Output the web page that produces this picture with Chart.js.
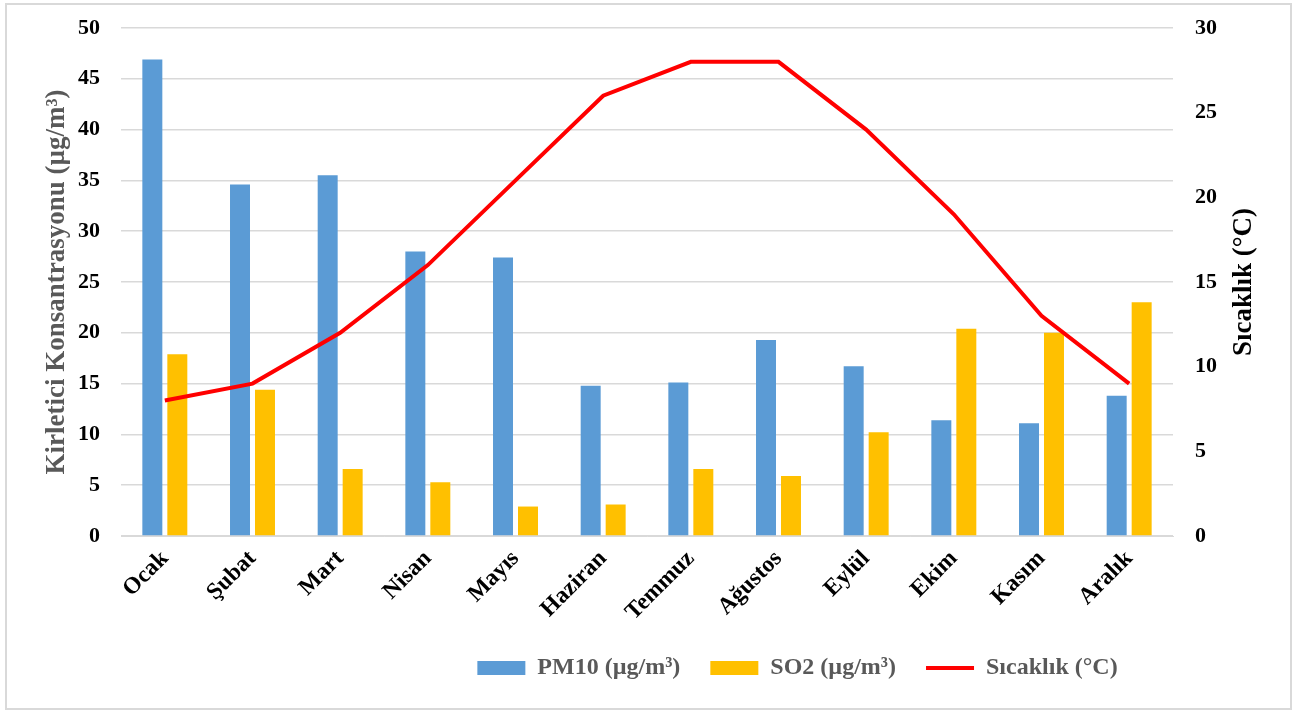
<!DOCTYPE html>
<html>
<head>
<meta charset="utf-8">
<script src="https://cdn.jsdelivr.net/npm/chart.js@4.4.0/dist/chart.umd.min.js"></script>
<style>
  body { margin: 0; background: #fff; }
  #wrap { position: relative; width: 1295px; height: 711px; }
  #frame { position: absolute; left: 5px; top: 3px; width: 1283px; height: 703px; border: 2px solid #d9d9d9; pointer-events: none; }
</style>
</head>
<body>
<div id="wrap">
  <canvas id="chart" width="1295" height="711"></canvas>
  <div id="frame"></div>
</div>
<script>
// months
const months = ['Ocak','Şubat','Mart','Nisan','Mayıs','Haziran','Temmuz','Ağustos','Eylül','Ekim','Kasım','Aralık'];
// PM10 (µg/m³)
const pm10 = [46.9, 34.6, 35.5, 28.0, 27.4, 14.8, 15.1, 19.3, 16.7, 11.4, 11.1, 13.8];
// SO2 (µg/m³)
const so2 = [17.9, 14.4, 6.6, 5.3, 2.9, 3.1, 6.6, 5.9, 10.2, 20.4, 20.0, 23.0];
// Sıcaklık (°C)
const temp = [8, 9, 12, 16, 21, 26, 28, 28, 24, 19, 13, 9];
const leftTicks = [0, 5, 10, 15, 20, 25, 30, 35, 40, 45, 50];
const rightTicks = [0, 5, 10, 15, 20, 25, 30];

Chart.defaults.font.family = '"Liberation Serif", "Times New Roman", serif';
Chart.defaults.font.weight = 'bold';
Chart.defaults.color = '#000';

const PLOT_BOTTOM = 536;
const LEGEND_Y = 668;

// right axis title reads bottom to top like Excel
const rightTitle = {
  id: 'rightTitle',
  afterDraw(c) {
    const ctx = c.ctx;
    const y = (c.chartArea.top + c.chartArea.bottom) / 2;
    ctx.save();
    ctx.translate(1244, y);
    ctx.rotate(-Math.PI / 2);
    ctx.font = 'bold 27px "Liberation Serif", serif';
    ctx.fillStyle = '#000';
    ctx.textAlign = 'center';
    ctx.textBaseline = 'middle';
    ctx.fillText('Sıcaklık (°C)', 0, 0);
    ctx.restore();
  }
};

// legend sits right of center and a bit lower in the original
const moveLegend = {
  id: 'moveLegend',
  afterLayout(c) {
    const lg = c.legend;
    const pad = lg.options.labels.padding;
    const h = lg.bottom - lg.top;
    lg.left += 150;
    lg.right += 150;
    lg.top = LEGEND_Y - 12 - pad;
    lg.bottom = lg.top + h;
  }
};

new Chart(document.getElementById('chart'), {
  data: {
    labels: months,
    datasets: [
      {
        type: 'line',
        label: 'Sıcaklık (°C)',
        data: temp,
        yAxisID: 'y1',
        borderColor: '#ff0000',
        backgroundColor: '#ff0000',
        borderWidth: 4,
        pointRadius: 0,
        tension: 0,
        order: 0
      },
      {
        type: 'bar',
        label: 'PM10 (µg/m³)',
        data: pm10,
        yAxisID: 'y',
        backgroundColor: '#5b9bd5',
        categoryPercentage: 0.57,
        barPercentage: 0.8,
        order: 1
      },
      {
        type: 'bar',
        label: 'SO2 (µg/m³)',
        data: so2,
        yAxisID: 'y',
        backgroundColor: '#ffc000',
        categoryPercentage: 0.57,
        barPercentage: 0.8,
        order: 1
      }
    ]
  },
  options: {
    responsive: false,
    animation: false,
    layout: { padding: { top: 28, bottom: 0, left: 0, right: 0 } },
    plugins: {
      tooltip: { enabled: false },
      legend: {
        position: 'bottom',
        labels: {
          color: '#595959',
          font: { size: 24, weight: 'bold' },
          usePointStyle: true,
          pointStyleWidth: 48,
          boxHeight: 14,
          padding: 30,
          sort: (a, b) => (a.datasetIndex === 0) - (b.datasetIndex === 0),
          generateLabels(c) {
            const items = Chart.defaults.plugins.legend.labels.generateLabels(c);
            items.forEach(it => {
              it.pointStyle = it.datasetIndex === 0 ? 'line' : 'rect';
              if (it.datasetIndex !== 0) it.lineWidth = 0;
            });
            return items;
          }
        }
      }
    },
    scales: {
      x: {
        grid: { display: false },
        border: { color: '#d9d9d9', width: 1 },
        ticks: { font: { size: 23.5 }, minRotation: 45, maxRotation: 45, padding: 1 },
        afterFit(s) {
          s.height = s.chart.height - s.chart.legend.height - PLOT_BOTTOM;
          s.paddingTop = 0;
        }
      },
      y: {
        position: 'left',
        min: 0, max: 50,
        afterBuildTicks(s) { s.ticks = leftTicks.map(v => ({ value: v })); },
        grid: { color: '#d9d9d9', lineWidth: 1.5, drawTicks: false },
        border: { display: false },
        ticks: { font: { size: 22 }, padding: 21 },
        title: {
          display: true,
          text: 'Kirletici Konsantrasyonu (µg/m³)',
          color: '#595959',
          font: { size: 27, weight: 'bold' },
          padding: { top: 41, bottom: 0 }
        },
        afterFit(s) { s.width = 121; s.paddingTop = 0; }
      },
      y1: {
        position: 'right',
        min: 0, max: 30,
        afterBuildTicks(s) { s.ticks = rightTicks.map(v => ({ value: v })); },
        grid: { display: false, drawTicks: false },
        border: { display: false },
        ticks: { font: { size: 22 }, padding: 22 },
        afterFit(s) { s.width = 122; s.paddingTop = 0; }
      }
    }
  },
  plugins: [rightTitle, moveLegend]
});
</script>
</body>
</html>
